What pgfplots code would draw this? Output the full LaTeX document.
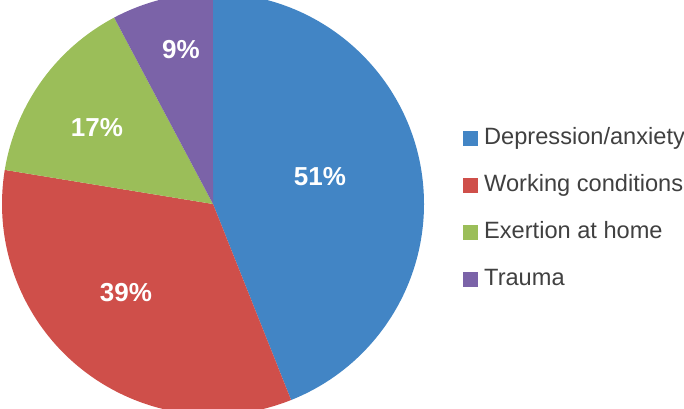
\documentclass[border=0pt]{standalone}
\usepackage{fontspec}
\setmainfont{Liberation Sans}
\usepackage{pgfplots}
\pgfplotsset{compat=1.18}
\usepackage{pgfplotstable}
\definecolor{cblue}{HTML}{4285C5}
\definecolor{cred}{HTML}{CF4F4A}
\definecolor{cgreen}{HTML}{9BBE59}
\definecolor{cpurple}{HTML}{7B63A8}
\definecolor{tgray}{HTML}{404040}
% shares (percent labels as in the chart)
\pgfplotstableread{
label value
Depression/anxiety 51
Working-conditions 39
Exertion-at-home 17
Trauma 9
}\piedata
\pgfplotstablegetelem{0}{value}\of\piedata \let\va\pgfplotsretval
\pgfplotstablegetelem{1}{value}\of\piedata \let\vb\pgfplotsretval
\pgfplotstablegetelem{2}{value}\of\piedata \let\vc\pgfplotsretval
\pgfplotstablegetelem{3}{value}\of\piedata \let\vd\pgfplotsretval
\pgfmathsetmacro{\tot}{\va+\vb+\vc+\vd}
\pgfmathsetmacro{\aA}{90}
\pgfmathsetmacro{\aB}{\aA-360*(\va/\tot)}
\pgfmathsetmacro{\aC}{\aB-360*(\vb/\tot)}
\pgfmathsetmacro{\aD}{\aC-360*(\vc/\tot)}
\pgfmathsetmacro{\aE}{\aD-360*(\vd/\tot)}
\def\R{105.5pt}
\begin{document}
\begin{tikzpicture}
\path[use as bounding box] (0,0) rectangle (342pt,204pt);
\begin{axis}[
  hide axis, scale only axis, clip=false,
  width=342pt, height=204pt,
  xmin=0, xmax=684, ymin=0, ymax=408,
  at={(0,0)}, anchor=south west,
  legend style={draw=none, fill=none, at={(axis cs:457,285)}, anchor=north west,
    font=\fontsize{11.8}{13}\selectfont, text=tgray,
    nodes={inner sep=0pt, text height=8.4pt, text depth=2.4pt},
    row sep=12.7pt, column sep=0pt},
  legend cell align=left,
  legend image code/.code={\fill[#1] (0pt,-3.5pt) rectangle (7pt,3.5pt);},
]
\addlegendimage{cblue}\addlegendentry{\hspace{3pt}Depression/anxiety}
\addlegendimage{cred}\addlegendentry{\hspace{3pt}Working conditions}
\addlegendimage{cgreen}\addlegendentry{\hspace{3pt}Exertion at home}
\addlegendimage{cpurple}\addlegendentry{\hspace{3pt}Trauma}
\fill[cblue] (axis cs:213,204) -- ++(\aA:\R) arc[start angle=\aA, end angle=\aB, radius=\R] -- cycle;
\fill[cred] (axis cs:213,204) -- ++(\aB:\R) arc[start angle=\aB, end angle=\aC, radius=\R] -- cycle;
\fill[cgreen] (axis cs:213,204) -- ++(\aC:\R) arc[start angle=\aC, end angle=\aD, radius=\R] -- cycle;
\fill[cpurple] (axis cs:213,204) -- ++(\aD:\R) arc[start angle=\aD, end angle=\aE, radius=\R] -- cycle;
\begin{scope}[every node/.style={text=white, font=\bfseries\fontsize{13}{15}\selectfont}]
\node at (axis cs:320,231) {51\%};
\node at (axis cs:126,115) {39\%};
\node at (axis cs:97,280) {17\%};
\node at (axis cs:181,358) {9\%};
\end{scope}
\end{axis}
\end{tikzpicture}
\end{document}
